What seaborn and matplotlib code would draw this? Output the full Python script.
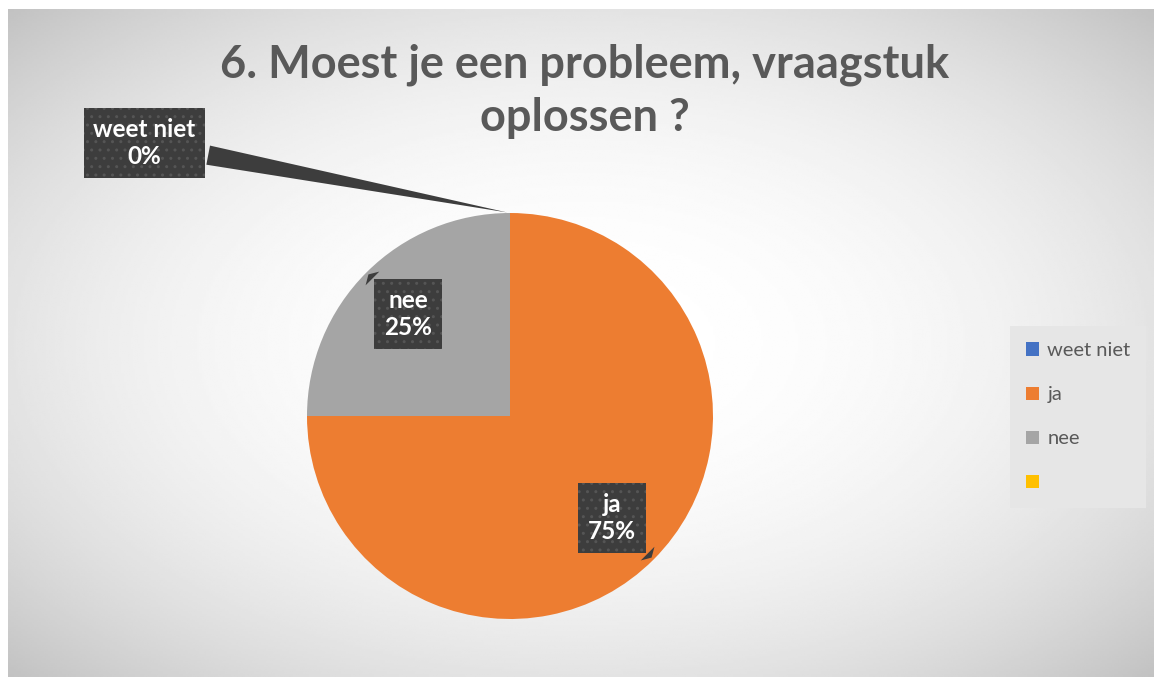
import numpy as np
import matplotlib
matplotlib.use("Agg")
import matplotlib.pyplot as plt
import seaborn as sns

# data
categories = ["weet niet", "ja", "nee", ""]
percentages = [0, 75, 25, 0]
colors = ["#4472C4", "#ED7D31", "#A5A5A5", "#FFC000"]
title = "6. Moest je een probleem, vraagstuk\noplossen ?"

sns.set_theme(style="white")
plt.rcParams["font.family"] = ["Lato", "DejaVu Sans"]
palette = sns.color_palette(colors)

W, H = 1154, 677
fig = plt.figure(figsize=(W / 100, H / 100), dpi=100, facecolor="white")

# background: radial grey gradient in the chart area
bg = fig.add_axes([8 / W, 0, (W - 8) / W, (H - 9) / H])
yy, xx = np.mgrid[0:1:300j, 0:1:500j]
d = np.sqrt(((xx - 0.5) / 0.5) ** 2 + ((yy - 0.5) / 0.5) ** 2) / np.sqrt(2)
shade = 1 - 0.24 * d ** 2.3
bg.imshow(shade, cmap="gray", vmin=0, vmax=1, aspect="auto",
          extent=[0, 1, 0, 1], interpolation="bilinear")
bg.set_axis_off()

# pie: centre (510, 416) px, radius 203 px
cx, cy, r = 510, 416, 203
ax = fig.add_axes([(cx - r) / W, (H - cy - r) / H, 2 * r / W, 2 * r / H])
wedges, _ = ax.pie(percentages, colors=palette, startangle=90,
                   counterclock=False, radius=1,
                   wedgeprops=dict(linewidth=0))
ax.set_xlim(-1, 1)
ax.set_ylim(-1, 1)
ax.set_aspect("equal")
ax.set_axis_off()

box = dict(boxstyle="square,pad=0.4", fc="#3d3d3d", ec="#555555",
           lw=0, hatch="..")
arrow = dict(arrowstyle="wedge,tail_width=0.8,shrink_factor=0.5",
             fc="#3d3d3d", ec="#3d3d3d", lw=0)

label_pos = {"weet niet": (-1.80, 1.345), "ja": None, "nee": None}
for w, cat, pct in zip(wedges, categories, percentages):
    if cat == "":
        continue
    ang = np.deg2rad((w.theta1 + w.theta2) / 2)
    tip = (np.cos(ang), np.sin(ang))
    pos = label_pos[cat] or (0.71 * tip[0], 0.71 * tip[1])
    ax.annotate(f"{cat}\n{pct}%", xy=tip, xytext=pos,
                ha="center", va="center", color="white",
                fontsize=17.5, fontweight="bold", linespacing=1.2,
                bbox=box, arrowprops=arrow, annotation_clip=False)

fig.text(585 / W, 1 - 43 / H, title, ha="center", va="top",
         fontsize=32.5, fontweight="bold", color="#595959", linespacing=1.33)

leg = fig.legend(wedges, categories, loc="upper left",
                 bbox_to_anchor=(1010 / W, 1 - 326 / H),
                 frameon=True, fancybox=False, framealpha=1,
                 facecolor="#e6e6e6", edgecolor="none",
                 fontsize=14.5, labelcolor="#595959",
                 handlelength=0.65, handleheight=0.65, handletextpad=0.4,
                 labelspacing=1.35, borderpad=0.8, borderaxespad=0)

fig.savefig("out.png", dpi=100, facecolor="white")
